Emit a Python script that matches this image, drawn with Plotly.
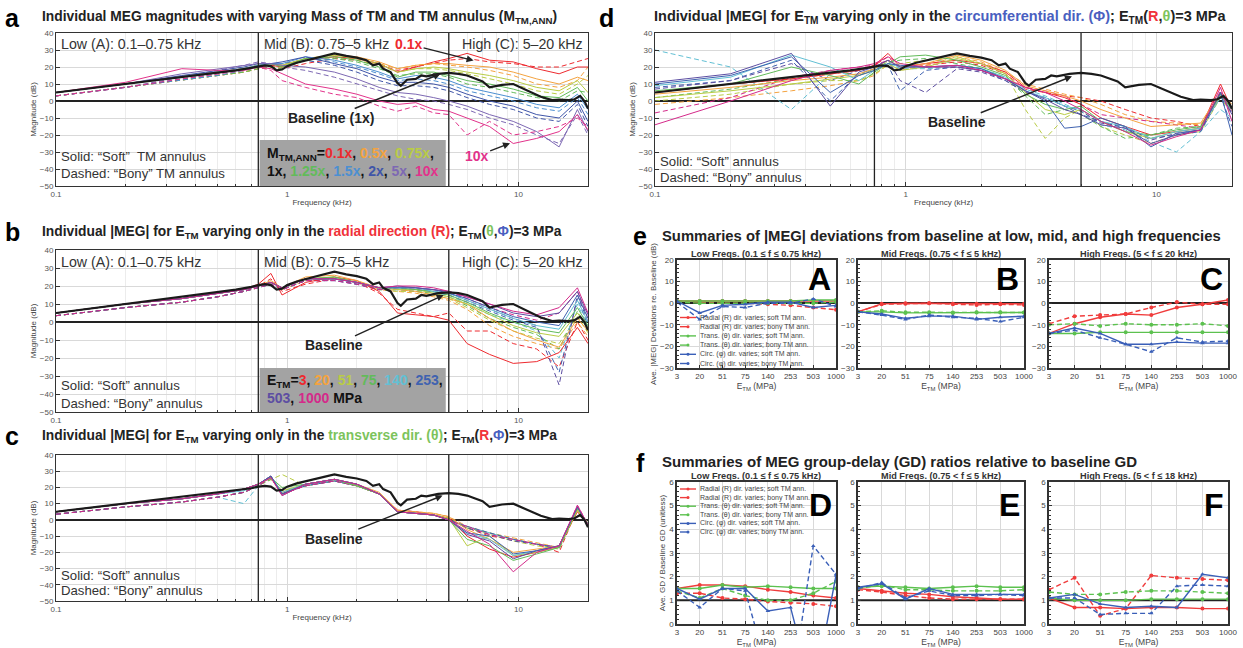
import numpy as np
import plotly.graph_objects as go

W, H = 1243, 648
FONT = "Liberation Sans, Arial, Helvetica, sans-serif"

# ---------------- data ----------------
FREQ = [0.1, 0.2, 0.35, 0.5, 0.65, 0.75, 0.85, 0.95, 1.2, 1.6, 2.0, 2.5, 3.0, 3.6, 4.3, 5.0, 6.0, 7.5, 9.5, 12, 15, 18, 20]
BASE_FREQ = [0.1, 0.2, 0.3, 0.5, 0.6, 0.7, 0.75, 0.8, 0.85, 0.9, 0.95, 1.0, 1.1, 1.3, 1.5, 1.6, 1.8, 2.0, 2.2, 2.35,
             2.5, 2.6, 2.8, 3.0, 3.1, 3.3, 3.6, 3.8, 4.0, 4.5, 5.0, 5.5, 6.0, 7.0, 7.5, 8.5, 9.5, 11, 12.5, 14, 15,
             16.5, 17.5, 18.5, 19.3, 20]
BASE_MAG = [5, 10, 13, 17, 18, 19.5, 20.5, 21, 20.5, 18, 18.5, 20.5, 22.5, 25, 27, 28, 26.5, 25.5, 24, 21,
            22, 19, 17, 10.5, 9, 12.5, 13, 15, 14.5, 16, 16.5, 16, 15, 11.5, 8, 9.5, 10, 6, 2.5, 0.5, 0.8,
            0.5, 1, 3, 0, -4.5]
BAND_EDGES = [0.75, 5.0]

# panel a: mass of TM and annulus
MASS_LABELS = ["0.1x", "0.5x", "0.75x", "1.25x", "1.5x", "2x", "5x", "10x"]
A_M01_SOFT = [5, 10, 14, 17, 19, 20, 21, 20, 24, 26, 25, 22, 17, 20, 23, 25, 28, 24, 23, 19, 16, 20, 20]
A_M01_BONY = [3, 8, 12, 15, 17, 19, 20, 19, 22, 25, 24, 21, 18, 20, 22, 24, 25, 23, 22, 20, 20, 23, 25]
A_M05_SOFT = [5, 10, 14, 17, 19, 21, 22, 21, 25, 27, 26, 23, 19, 21, 22, 22, 21, 20, 17, 13, 10, 14, 12]
A_M05_BONY = [3, 8, 12, 15, 17, 19, 20, 20, 24, 26, 25, 22, 19, 21, 22, 21, 20, 18, 15, 10, 8, 12, 20]
A_M075_SOFT = [5, 10, 14, 17, 19, 21, 22, 21, 25, 27, 25, 22, 17, 19, 20, 19, 17, 15, 12, 8, 6, 12, 5]
A_M075_BONY = [3, 8, 12, 15, 17, 19, 20, 20, 24, 26, 24, 21, 17, 19, 19, 18, 16, 13, 10, 6, 4, 10, 15]
A_M125_SOFT = [5, 10, 14, 17, 19, 21, 22, 20, 25, 26, 24, 20, 14, 17, 17, 15, 12, 10, 7, 3, 2, 8, 0]
A_M125_BONY = [3, 8, 12, 15, 17, 19, 20, 19, 24, 25, 23, 19, 15, 16, 16, 14, 10, 8, 5, 2, 0, 6, 5]
A_M15_SOFT = [5, 10, 14, 17, 19, 21, 22, 22, 26, 24, 21, 17, 13, 15, 14, 12, 8, 5, 2, -2, -4, 4, -5]
A_M15_BONY = [3, 8, 12, 15, 18, 20, 21, 21, 25, 23, 20, 16, 12, 13, 12, 10, 6, 3, 0, -4, -6, 2, -8]
A_M2_SOFT = [5, 10, 15, 18, 20, 22, 22, 23, 26, 22, 19, 14, 11, 11, 10, 8, 4, 0, -3, -8, -10, 0, -12]
A_M2_BONY = [3, 8, 13, 16, 19, 21, 21, 22, 24, 21, 17, 12, 9, 9, 8, 6, 2, -2, -5, -10, -12, -2, -15]
A_M5_SOFT = [5, 10, 16, 19, 21, 22, 22, 21, 20, 17, 13, 8, 5, 4, 2, 0, -3, -8, -12, -18, -27, -5, -18]
A_M5_BONY = [3, 8, 14, 18, 21, 23, 22, 20, 18, 14, 10, 6, 3, 1, 0, -2, -5, -10, -14, -20, -25, -8, -20]
A_M10_SOFT = [5, 11, 19, 18, 18, 20, 19, 16, 10, 7, 4, 0, -2, -1, -5, -6, -10, -15, -25, -22, -18, -8, -17]
A_M10_BONY = [3, 8, 13, 16, 18, 20, 18, 12, 8, 4, 2, -3, -6, -3, -7, -8, -20, -12, -20, -18, -15, -10, -15]

# panels b-d: E_TM values
E_LABELS = ["3", "20", "51", "75", "140", "253", "503", "1000"]
B_E3_SOFT = [5, 10, 13, 16, 18, 21, 27, 15, 22, 25, 23, 17, 5, 4, 3, 1, -12, -18, -23, -22, -17, -3, -12]
B_E3_BONY = [3.5, 8, 11, 14, 17, 20, 24, 17, 21, 24, 22, 16, 7, 5, 3, 5, -5, -5, -12, -15, -25, 0, -10]
B_E20_SOFT = [5, 10, 13, 16, 18, 20, 23, 19, 25, 26, 23, 19, 18, 17, 15, 13, 10, 2, -5, -10, -14, 2, -5]
B_E20_BONY = [3.5, 8, 11, 14, 17, 19, 22, 18, 23, 25, 22, 18, 17, 16, 14, 12, 7, -2, -8, -12, -15, 0, -8]
B_E51_SOFT = [5, 10, 13, 16, 18, 20, 22, 19, 24, 25, 22, 19, 18, 18, 16, 14, 10, 4, -2, -6, -8, 5, -3]
B_E51_BONY = [3.5, 8, 11, 14, 17, 19, 21, 18, 23, 24, 22, 18, 17, 17, 15, 13, 8, 1, -5, -9, -12, 3, -6]
B_E75_SOFT = [5, 10, 13, 16, 18, 20, 22, 19, 24, 25, 22, 19, 19, 18, 17, 15, 11, 5, 0, -4, -6, 8, -2]
B_E75_BONY = [3.5, 8, 11, 14, 17, 19, 21, 18, 23, 24, 22, 18, 18, 17, 16, 14, 9, 2, -3, -7, -15, 6, -5]
B_E140_SOFT = [5, 10, 13, 16, 18, 20, 22, 19, 24, 24, 22, 19, 19, 19, 17, 16, 12, 7, 2, -2, -4, 12, 0]
B_E140_BONY = [3.5, 8, 11, 14, 17, 19, 21, 18, 23, 24, 21, 18, 18, 18, 16, 15, 10, 4, 0, -5, -20, 10, -3]
B_E253_SOFT = [5, 10, 13, 16, 18, 20, 22, 19, 24, 24, 22, 19, 19, 19, 18, 16, 13, 8, 3, 0, -2, 15, 2]
B_E253_BONY = [3.5, 8, 11, 14, 17, 19, 21, 18, 23, 23, 21, 18, 18, 18, 17, 15, 11, 6, 1, -3, -28, 13, -2]
B_E503_SOFT = [5, 10, 13, 16, 18, 20, 22, 19, 24, 24, 22, 19, 20, 19, 18, 17, 14, 10, 5, 3, 5, 17, 4]
B_E503_BONY = [3.5, 8, 11, 14, 17, 19, 21, 18, 23, 23, 21, 18, 19, 18, 17, 16, 12, 7, 2, -2, -35, 15, 0]
B_E1000_SOFT = [5, 10, 13, 16, 18, 20, 22, 19, 24, 24, 22, 19, 20, 20, 19, 17, 14, 10, 6, 4, 8, 19, 5]
B_E1000_BONY = [3.5, 8, 11, 14, 17, 19, 21, 18, 23, 23, 21, 18, 19, 19, 18, 17, 13, 8, 4, 1, 5, 17, 2]

C_E3_SOFT = [5, 10, 13, 16, 19, 22, 27, 16, 22, 25, 22, 16, 5, 4, 3, 1, -10, -18, -23, -20, -16, 5, -3]
C_E3_BONY = [3.5, 8, 11, 14, 17, 21, 26, 16, 21, 24, 21, 16, 6, 5, 3, 1, -5, -10, -12, -15, -20, 7, -3]
C_E20_SOFT = [5, 10, 13, 16, 19, 22, 26, 17, 22, 25, 22, 17, 6, 5, 4, 2, -6, -12, -20, -18, -16, 6, -2]
C_E20_BONY = [3.5, 8, 11, 14, 17, 21, 25, 17, 21, 24, 21, 16, 6, 5, 4, 2, -4, -8, -11, -14, -17, 6, -3]
C_E51_SOFT = [5, 10, 13, 16, 19, 22, 26, 18, 22, 25, 21, 16, 5, 4, 3, 1, -16, -10, -22, -20, -17, 6, -3]
C_E51_BONY = [3.5, 8, 11, 14, 17, 21, 25, 28, 21, 24, 21, 16, 5, 4, 3, 1, -5, -9, -13, -16, -18, 6, -3]
C_E75_SOFT = [5, 10, 13, 16, 19, 22, 26, 20, 22, 25, 21, 16, 5, 4, 3, 0, -12, -16, -25, -21, -17, 7, -2]
C_E75_BONY = [3.5, 8, 11, 14, 17, 21, 25, 18, 21, 24, 21, 16, 5, 4, 3, 0, -5, -8, -12, -15, -18, 7, -3]
C_E140_SOFT = [5, 10, 13, 16, 18, 22, 27, 17, 22, 25, 22, 16, 5, 4, 3, 0, -8, -12, -22, -19, -16, 8, -3]
C_E140_BONY = [3.5, 8, 11, 14, 10, 21, 26, 17, 21, 24, 21, 16, 5, 4, 3, 0, -4, -8, -12, -15, -17, 8, -4]
C_E253_SOFT = [5, 10, 13, 16, 19, 22, 27, 16, 22, 25, 22, 16, 5, 4, 3, 0, -8, -10, -21, -19, -16, 8, -3]
C_E253_BONY = [3.5, 8, 11, 14, 17, 21, 27, 16, 21, 24, 21, 16, 5, 4, 3, 0, -4, -8, -12, -15, -17, 8, -4]
C_E503_SOFT = [5, 10, 13, 16, 19, 22, 27, 15, 22, 25, 22, 16, 5, 4, 3, 0, -9, -13, -24, -19, -16, 8, -3]
C_E503_BONY = [3.5, 8, 11, 14, 17, 21, 26, 16, 21, 24, 21, 16, 5, 4, 3, 0, -5, -9, -13, -15, -17, 8, -4]
C_E1000_SOFT = [5, 10, 13, 16, 19, 22, 26, 15, 22, 25, 22, 16, 5, 4, 3, 0, -7, -15, -32, -20, -16, 9, -3]
C_E1000_BONY = [3.5, 8, 11, 14, 17, 21, 26, 16, 21, 24, 21, 16, 6, 5, 3, 0, -4, -9, -12, -15, -17, 9, -3]

D_E3_SOFT = [5, 10, 13, 16, 18, 21, 28, 20, 22, 24, 22, 17, 8, 5, 2, -2, -10, -15, -20, -18, -16, 10, -5]
D_E3_BONY = [5, 10, 13, 16, 18, 21, 26, 19, 21, 23, 21, 16, 7, 5, 3, 2, 0, -5, -10, -12, -15, 5, -3]
D_E20_SOFT = [4, 8, 12, 14, 16, 19, 24, 20, 22, 27, 24, 18, 9, 6, 3, 0, -5, -10, -15, -14, -13, 5, -2]
D_E20_BONY = [-2, 2, 6, 9, 12, 15, 22, 18, 21, 26, 23, 17, 10, 7, 4, 2, -2, -8, -12, -13, -14, 4, -4]
D_E51_SOFT = [2, 6, 10, 13, 15, 18, 22, 18, 20, 25, 22, 16, 5, -5, -8, -5, -12, -18, -22, -18, -16, 3, -5]
D_E51_BONY = [0, 4, 10, 12, 12, 16, 21, 22, 24, 26, 22, 16, -5, -22, -10, -5, -15, -20, -25, -20, -18, 2, -8]
D_E75_SOFT = [6, 10, 20, 15, 10, 17, 22, 26, 27, 24, 20, 15, 4, -2, -5, -3, -12, -18, -20, -17, -15, 4, -5]
D_E75_BONY = [2, 7, 13, 18, 15, 19, 23, 24, 25, 22, 19, 14, 3, -8, -5, -8, -15, -22, -20, -16, -15, 3, -6]
D_E140_SOFT = [9, 14, 27, 20, 12, 18, 22, 20, 20, 21, 19, 14, 6, 2, -3, -5, -12, -15, -22, -18, -16, 2, -5]
D_E140_BONY = [30, 20, -5, 16, 18, 20, 22, 19, 19, 20, 18, 13, 7, 3, -2, -6, -14, -17, -24, -30, -18, -5, -10]
D_E253_SOFT = [10, 15, 26, 5, 15, 18, 22, 21, 20, 21, 19, 13, 6, 0, -16, -15, -10, -15, -27, -19, -17, 5, -20]
D_E253_BONY = [8, 12, 24, 0, 16, 19, 21, 6, 18, 20, 18, 12, 5, 2, -3, -8, -12, -16, -22, -20, -18, 3, -15]
D_E503_SOFT = [11, 16, 28, -3, 17, 20, 24, 20, 20, 20, 18, 13, 6, 1, -5, -8, -14, -16, -25, -20, -17, 5, -8]
D_E503_BONY = [7, 12, 22, 12, 18, 20, 24, 12, 5, 19, 17, 12, 5, 2, -3, -6, -13, -15, -23, -19, -17, 3, -7]
D_E1000_SOFT = [-14, 0, 12, 18, 20, 22, 26, 22, 20, 21, 18, 13, 8, 5, 0, -5, -12, -18, -26, -21, -17, 8, -12]
D_E1000_BONY = [-7, 2, 14, 18, 20, 21, 24, 20, 20, 20, 18, 13, 8, 6, 3, -2, -8, -10, -12, -14, -16, 6, -6]

# panel e: average |MEG| deviations (dB)
E_LOW_R_SOFT = [1, 1, 1, 1, 1, 1, 1, 1]
E_LOW_R_BONY = [1, 0.5, 0, 0, -0.5, -1, -2, -3]
E_LOW_T_SOFT = [1, 1, 1, 1, 1, 1, 1.5, 1.5]
E_LOW_T_BONY = [0.5, 0, 0, 0, 0, 0, 0, 0.5]
E_LOW_C_SOFT = [1, -4.5, -1, -0.5, 0.5, 0.5, -2, -1]
E_LOW_C_BONY = [0.5, -7.5, -1.5, -2, 0, 0, 2, -1.5]
E_MID_R_SOFT = [-4, -0.3, 0, 0, -0.2, -0.3, -0.3, -0.3]
E_MID_R_BONY = [-4, -0.5, -0.3, 0, -0.5, -0.8, -0.5, -0.8]
E_MID_T_SOFT = [-4, -4, -4.5, -4.5, -4.5, -4.3, -4.3, -4.3]
E_MID_T_BONY = [-4, -3.5, -4.2, -4.2, -4.3, -4.2, -4.2, -4.3]
E_MID_C_SOFT = [-4, -5, -7, -6, -6, -7.5, -6.5, -6]
E_MID_C_BONY = [-4, -5.5, -7.5, -5.5, -6.5, -7, -8.5, -6.5]
E_HIGH_R_SOFT = [-14, -9.5, -6.5, -5, -5.5, -2, -0.5, 1.5]
E_HIGH_R_BONY = [-9.5, -6, -5.5, -5, -2, 0.5, -0.5, -0.5]
E_HIGH_T_SOFT = [-14, -14, -13.5, -13.5, -13.5, -13.5, -13.5, -13.5]
E_HIGH_T_BONY = [-10, -9.5, -10.5, -9.5, -10, -10, -9.5, -10.5]
E_HIGH_C_SOFT = [-14, -11.5, -14, -19, -19, -18, -18.5, -18.5]
E_HIGH_C_BONY = [-14, -12.5, -16, -19, -22.5, -16, -18, -17.5]

# panel f: group-delay ratios
F_LOW_R_SOFT = [1.5, 1.65, 1.65, 1.6, 1.45, 1.35, 1.2, 1.1]
F_LOW_R_BONY = [1.3, 1.3, 1.1, 1.05, 0.95, 0.9, 0.85, 0.75]
F_LOW_T_SOFT = [1.5, 1.5, 1.65, 1.55, 1.6, 1.55, 1.5, 1.5]
F_LOW_T_BONY = [1.4, 1.1, 1.5, 1.2, 1.0, 1.0, 1.3, 1.8]
F_LOW_C_SOFT = [1.5, 1.05, 1.5, 1.5, 0.55, 0.7, -3, 2.05]
F_LOW_C_BONY = [1.4, 0.7, 1.5, 1.4, -2, -3, 3.3, 2.1]
F_MID_R_SOFT = [1.5, 1.4, 1.3, 1.25, 1.15, 1.1, 1.05, 1.05]
F_MID_R_BONY = [1.45, 1.35, 1.2, 1.1, 1.05, 1.05, 1.05, 1.05]
F_MID_T_SOFT = [1.55, 1.6, 1.55, 1.5, 1.55, 1.6, 1.55, 1.55]
F_MID_T_BONY = [1.5, 1.65, 1.45, 1.45, 1.4, 1.4, 1.4, 1.45]
F_MID_C_SOFT = [1.55, 1.7, 1.05, 1.5, 1.25, 1.25, 1.25, 1.25]
F_MID_C_BONY = [1.5, 1.75, 1.1, 1.4, 1.2, 1.2, 1.25, 1.2]
F_HIGH_R_SOFT = [1.1, 0.7, 0.7, 0.65, 0.7, 0.7, 0.65, 0.65]
F_HIGH_R_BONY = [1.45, 1.95, 0.35, 0.65, 2.05, 1.95, 1.9, 1.85]
F_HIGH_T_SOFT = [1.1, 1.0, 1.0, 1.0, 1.05, 1.05, 1.05, 1.05]
F_HIGH_T_BONY = [1.35, 1.25, 1.25, 1.35, 1.4, 1.4, 1.35, 1.3]
F_HIGH_C_SOFT = [1.1, 1.25, 0.85, 0.7, 0.75, 0.7, 2.1, 1.95]
F_HIGH_C_BONY = [1.1, 1.1, 0.4, 0.45, 0.45, 1.6, 1.65, 1.6]

LEG_LABELS = ["Radial (R) dir. varies; soft TM ann.", "Radial (R) dir. varies; bony TM ann.",
              "Trans. (θ) dir. varies; soft TM ann.", "Trans. (θ) dir. varies; bony TM ann.",
              "Circ. (φ) dir. varies; soft TM ann.", "Circ. (φ) dir. varies; bony TM ann."]

# ---------------- styles ----------------
RED, ORANGE, YG, GREEN = "#ee2a2f", "#f4a340", "#b9cc45", "#62bb5a"
CYAN, LBLUE, BLUE, PURPLE, MAGENTA = "#62c0d4", "#4c8fd1", "#3f55a8", "#7d68b3", "#e2338b"
MASS_COLORS = [RED, ORANGE, YG, GREEN, LBLUE, BLUE, PURPLE, MAGENTA]
E_COLORS = [RED, ORANGE, YG, GREEN, CYAN, "#3f62b0", "#5d4ea2", "#d42a8a"]
SUM_RED, SUM_GREEN, SUM_BLUE = "#f03c3c", "#5cc14f", "#3a5fb8"
GRID, GRID_MINOR, FRAME = "#d9d9d9", "#ececec", "#333333"
DASH = "5px,3px"


def px(v):
    return v / W


def py(v):
    return 1 - v / H


fig = go.Figure()

BIG = {  # axis suffix: (x0, x1, y0top, y1bottom) in pixels
    "": (56, 588, 33, 186),
    "2": (56, 588, 250, 412),
    "3": (56, 588, 455, 601),
    "4": (655, 1232, 33, 186),
}
SMALL_X = [(677, 836), (858, 1024), (1049, 1228)]
E_Y = (260, 368)
F_Y = (482, 624)

MINOR = [0.2, 0.3, 0.4, 0.5, 0.6, 0.7, 0.8, 0.9, 2, 3, 4, 5, 6, 7, 8, 9, 20]
layout_axes = {}
for suf, (x0, x1, yt, yb) in BIG.items():
    xa = dict(
        type="log", range=[-1, np.log10(20)], domain=[px(x0), px(x1)], anchor="y" + suf, automargin=False,
        tickvals=[0.1, 1, 10], ticktext=["0.1", "1", "10"], showgrid=True, gridcolor=GRID,
        minor=dict(tickvals=MINOR, showgrid=True, gridcolor=GRID_MINOR, ticks="inside", ticklen=2,
                   tickcolor=FRAME),
        ticks="inside", ticklen=4, tickcolor=FRAME, showline=True, mirror=True, linecolor=FRAME,
        linewidth=1, tickfont=dict(size=8, color="#555"), zeroline=False)
    if suf != "2":
        xa["title"] = dict(text="Frequency (kHz)", font=dict(size=8, color="#444"), standoff=1)
    layout_axes["xaxis" + suf] = xa
    layout_axes["yaxis" + suf] = dict(
        range=[-50, 40], dtick=10, domain=[py(yb), py(yt)], anchor="x" + suf, showgrid=True, automargin=False,
        gridcolor=GRID, zeroline=True, zerolinecolor="#222", zerolinewidth=2, ticks="inside", ticklen=4,
        tickcolor=FRAME, showline=True, mirror=True, linecolor=FRAME, linewidth=1,
        tickfont=dict(size=8, color="#555"),
        title=dict(text="Magnitude (dB)", font=dict(size=8, color="#444"), standoff=2))

for i in range(6):
    n = str(5 + i)
    xs = SMALL_X[i % 3]
    ys = E_Y if i < 3 else F_Y
    layout_axes["xaxis" + n] = dict(
        type="category", range=[0, 7], domain=[px(xs[0]), px(xs[1])], anchor="y" + n, automargin=False,
        showgrid=True, gridcolor=GRID, ticks="inside", ticklen=3, tickcolor=FRAME, showline=True,
        mirror=True, linecolor=FRAME, linewidth=1.5, tickfont=dict(size=8, color="#444"),
        title=dict(text="E<sub>TM</sub> (MPa)", font=dict(size=8.5, color="#444"), standoff=1))
    if i < 3:
        ya = dict(
            range=[-30, 20], dtick=10, domain=[py(ys[1]), py(ys[0])], anchor="x" + n, showgrid=True,
            automargin=False,
            gridcolor=GRID, zeroline=True, zerolinecolor="#222", zerolinewidth=2, ticks="inside",
            ticklen=3, tickcolor=FRAME, showline=True, mirror=True, linecolor=FRAME, linewidth=1.5,
            minor=dict(dtick=2, ticks="inside", ticklen=2, tickcolor=FRAME),
            tickfont=dict(size=8, color="#444"))
        if i == 0:
            ya["title"] = dict(text="Ave. |MEG| Deviations re. Baseline (dB)", font=dict(size=8, color="#444"),
                               standoff=2)
    else:
        ya = dict(
            range=[0, 6], dtick=1, domain=[py(ys[1]), py(ys[0])], anchor="x" + n, showgrid=True,
            automargin=False,
            gridcolor=GRID, zeroline=False, ticks="inside", ticklen=3, tickcolor=FRAME, showline=True,
            mirror=True, linecolor=FRAME, linewidth=1.5,
            minor=dict(dtick=0.2, ticks="inside", ticklen=2, tickcolor=FRAME),
            tickfont=dict(size=8, color="#444"))
        if i == 3:
            ya["title"] = dict(text="Ave. GD / Baseline GD (unitless)", font=dict(size=8, color="#444"),
                               standoff=2)
    layout_axes["yaxis" + n] = ya


def line(suf, x, y, color, dash="solid", width=1.0):
    fig.add_trace(go.Scatter(x=x, y=y, mode="lines", xaxis="x" + suf, yaxis="y" + suf,
                             line=dict(color=color, dash=dash, width=width), showlegend=False,
                             hoverinfo="skip"))


PANEL_SERIES = {
    "": [(A_M01_SOFT, A_M01_BONY), (A_M05_SOFT, A_M05_BONY), (A_M075_SOFT, A_M075_BONY),
         (A_M125_SOFT, A_M125_BONY), (A_M15_SOFT, A_M15_BONY), (A_M2_SOFT, A_M2_BONY),
         (A_M5_SOFT, A_M5_BONY), (A_M10_SOFT, A_M10_BONY)],
    "2": [(B_E3_SOFT, B_E3_BONY), (B_E20_SOFT, B_E20_BONY), (B_E51_SOFT, B_E51_BONY),
          (B_E75_SOFT, B_E75_BONY), (B_E140_SOFT, B_E140_BONY), (B_E253_SOFT, B_E253_BONY),
          (B_E503_SOFT, B_E503_BONY), (B_E1000_SOFT, B_E1000_BONY)],
    "3": [(C_E3_SOFT, C_E3_BONY), (C_E20_SOFT, C_E20_BONY), (C_E51_SOFT, C_E51_BONY),
          (C_E75_SOFT, C_E75_BONY), (C_E140_SOFT, C_E140_BONY), (C_E253_SOFT, C_E253_BONY),
          (C_E503_SOFT, C_E503_BONY), (C_E1000_SOFT, C_E1000_BONY)],
    "4": [(D_E3_SOFT, D_E3_BONY), (D_E20_SOFT, D_E20_BONY), (D_E51_SOFT, D_E51_BONY),
          (D_E75_SOFT, D_E75_BONY), (D_E140_SOFT, D_E140_BONY), (D_E253_SOFT, D_E253_BONY),
          (D_E503_SOFT, D_E503_BONY), (D_E1000_SOFT, D_E1000_BONY)],
}

for suf, series in PANEL_SERIES.items():
    colors = MASS_COLORS if suf == "" else E_COLORS
    for (soft, bony), col in zip(series, colors):
        line(suf, FREQ, bony, col, DASH, 1.0)
    for (soft, bony), col in zip(series, colors):
        line(suf, FREQ, soft, col, "solid", 1.0)
    for edge in BAND_EDGES:
        line(suf, [edge, edge], [-50, 40], "#222", "solid", 1.3)
    line(suf, BASE_FREQ, BASE_MAG, "#1a1a1a", "solid", 2.2)

# summary panels
SUM_SETS = [
    [E_LOW_R_SOFT, E_LOW_R_BONY, E_LOW_T_SOFT, E_LOW_T_BONY, E_LOW_C_SOFT, E_LOW_C_BONY],
    [E_MID_R_SOFT, E_MID_R_BONY, E_MID_T_SOFT, E_MID_T_BONY, E_MID_C_SOFT, E_MID_C_BONY],
    [E_HIGH_R_SOFT, E_HIGH_R_BONY, E_HIGH_T_SOFT, E_HIGH_T_BONY, E_HIGH_C_SOFT, E_HIGH_C_BONY],
    [F_LOW_R_SOFT, F_LOW_R_BONY, F_LOW_T_SOFT, F_LOW_T_BONY, F_LOW_C_SOFT, F_LOW_C_BONY],
    [F_MID_R_SOFT, F_MID_R_BONY, F_MID_T_SOFT, F_MID_T_BONY, F_MID_C_SOFT, F_MID_C_BONY],
    [F_HIGH_R_SOFT, F_HIGH_R_BONY, F_HIGH_T_SOFT, F_HIGH_T_BONY, F_HIGH_C_SOFT, F_HIGH_C_BONY],
]
SUM_STYLE = [(SUM_RED, "solid", "circle"), (SUM_RED, DASH, "circle"),
             (SUM_GREEN, "solid", "circle"), (SUM_GREEN, DASH, "circle"),
             (SUM_BLUE, "solid", "triangle-up"), (SUM_BLUE, DASH, "triangle-up")]

for i, sets in enumerate(SUM_SETS):
    n = str(5 + i)
    if i >= 3:
        fig.add_trace(go.Scatter(x=E_LABELS, y=[1] * len(E_LABELS), mode="lines", xaxis="x" + n,
                                 yaxis="y" + n, line=dict(color="#222", width=2), showlegend=False,
                                 hoverinfo="skip"))
    for vals, (col, dash, sym) in zip(sets, SUM_STYLE):
        fig.add_trace(go.Scatter(x=E_LABELS, y=vals, mode="lines+markers", xaxis="x" + n,
                                 yaxis="y" + n, line=dict(color=col, dash=dash, width=1.4),
                                 marker=dict(color=col, size=4, symbol=sym), showlegend=False,
                                 hoverinfo="skip", cliponaxis=True))

# ---------------- annotations ----------------
ann = []
shapes = []


def txt(xp, yp, text, size=12, color="#222", xanchor="left", yanchor="middle", bold=False, align="left"):
    if bold:
        text = "<b>" + text + "</b>"
    ann.append(dict(x=px(xp), y=py(yp), xref="paper", yref="paper", text=text, showarrow=False,
                    xanchor=xanchor, yanchor=yanchor, align=align,
                    font=dict(size=size, color=color, family=FONT)))


def dtxt(suf, f, db, text, size=12.5, color="#333", xanchor="left", bold=False, align="left"):
    if bold:
        text = "<b>" + text + "</b>"
    ann.append(dict(x=np.log10(f), y=db, xref="x" + suf, yref="y" + suf, text=text, showarrow=False,
                    xanchor=xanchor, yanchor="middle", align=align,
                    font=dict(size=size, color=color, family=FONT)))


def arrow(suf, f_head, db_head, f_tail, db_tail, text, color="#222", size=13):
    ann.append(dict(x=np.log10(f_head), y=db_head, ax=np.log10(f_tail), ay=db_tail,
                    xref="x" + suf, yref="y" + suf, axref="x" + suf, ayref="y" + suf,
                    text="<b>" + text + "</b>", showarrow=True, arrowhead=2, arrowsize=1,
                    arrowwidth=1.4, arrowcolor="#222", font=dict(size=size, color=color, family=FONT)))


def span(c, t):
    return "<span style='color:%s'>%s</span>" % (c, t)


T_RED, T_GREEN, T_BLUE = "#f0323a", "#7cc35c", "#4a5fc0"

# panel letters
for xp, yp, L in [(12, 18, "a"), (12, 232, "b"), (12, 436, "c"), (606, 18, "d"), (640, 236, "e"), (640, 463, "f")]:
    txt(xp, yp, L, size=25, color="#000", xanchor="center", bold=True)

# titles
TS = 13.8
txt(40, 17, "Individual MEG magnitudes with varying Mass of TM and TM annulus (M<sub>TM,ANN</sub>)", TS, bold=True)
txt(40, 232, "Individual |MEG| for E<sub>TM</sub> varying only in the " + span(T_RED, "radial direction (R)")
    + "; E<sub>TM</sub>(" + span(T_GREEN, "θ") + "," + span(T_BLUE, "Φ") + ")=3 MPa", TS, bold=True)
txt(40, 436, "Individual |MEG| for E<sub>TM</sub> varying only in the " + span(T_GREEN, "transverse dir. (θ)")
    + "; E<sub>TM</sub>(" + span(T_RED, "R") + "," + span(T_BLUE, "Φ") + ")=3 MPa", TS, bold=True)
txt(652, 17, "Individual |MEG| for E<sub>TM</sub> varying only in the " + span(T_BLUE, "circumferential dir. (Φ)")
    + "; E<sub>TM</sub>(" + span(T_RED, "R") + "," + span(T_GREEN, "θ") + ")=3 MPa", TS + 0.7, bold=True)
txt(660, 236, "Summaries of |MEG| deviations from baseline at low, mid, and high frequencies", 14.8, bold=True)
txt(660, 461, "Summaries of MEG group-delay (GD) ratios relative to baseline GD", 15, bold=True)

# region labels
RS = 14.2
for suf in ["", "2"]:
    dtxt(suf, 0.103, 33.5, "Low (A): 0.1–0.75 kHz", RS)
    dtxt(suf, 0.78, 33.5, "Mid (B): 0.75–5 kHz", RS)
    dtxt(suf, 19.5, 33.5, "High (C): 5–20 kHz", RS, xanchor="right")

SS = 13.2
dtxt("", 0.103, -32.5, "Solid: “Soft”  TM annulus", SS)
dtxt("", 0.103, -42.5, "Dashed: “Bony” TM annulus", SS)
for suf, y1, y2 in [("2", -35.5, -45), ("3", -34.5, -43.5), ("4", -35.5, -45)]:
    dtxt(suf, 0.103, y1, "Solid: “Soft” annulus", SS)
    dtxt(suf, 0.103, y2, "Dashed: “Bony” annulus", SS)

# legend boxes (domain fractions computed from log positions)
LOGSPAN = np.log10(20) - (-1)


def xdom(f):
    return (np.log10(f) + 1) / LOGSPAN


shapes.append(dict(type="rect", xref="x domain", yref="y", x0=xdom(0.76), x1=xdom(4.85), y0=-50, y1=-23,
                   fillcolor="#a3a3a3", line=dict(width=0), layer="above"))
shapes.append(dict(type="rect", xref="x2 domain", yref="y2", x0=xdom(0.76), x1=xdom(4.85), y0=-50, y1=-25.5,
                   fillcolor="#a3a3a3", line=dict(width=0), layer="above"))

dtxt("", 0.8, -36, "M<sub>TM,ANN</sub>=" + span(RED, "0.1x") + ", " + span(ORANGE, "0.5x") + ", "
     + span(YG, "0.75x") + ",<br>1x, " + span(GREEN, "1.25x") + ", " + span(LBLUE, "1.5x") + ", "
     + span(BLUE, "2x") + ", " + span(PURPLE, "5x") + ", " + span(MAGENTA, "10x"), size=14,
     color="#111", bold=True)
dtxt("2", 0.8, -37, "E<sub>TM</sub>=" + span(RED, "3") + ", " + span(ORANGE, "20") + ", " + span(YG, "51")
     + ", " + span(GREEN, "75") + ", " + span(CYAN, "140") + ", " + span("#3f62b0", "253") + ",<br>"
     + span("#5d4ea2", "503") + ", " + span("#d42a8a", "1000") + " MPa", size=14, color="#111", bold=True)

# arrows
arrow("", 4.6, 16, 1.55, -10, "Baseline (1x)", size=14)
arrow("", 6.4, 23.8, 3.35, 33.5, span(RED, "0.1x"), size=14)
arrow("", 9.2, -24.8, 6.6, -32.5, span(MAGENTA, "10x"), size=14)
arrow("2", 4.75, 15, 1.6, -13, "Baseline", size=14)
arrow("3", 4.7, 15, 1.6, -11.5, "Baseline", size=14)
arrow("4", 4.6, 14.5, 1.6, -12.5, "Baseline", size=14)

# summary subplot titles and letters
SUB_TITLES_E = ["Low Freqs. (0.1 ≤ f ≤ 0.75 kHz)", "Mid Freqs. (0.75 < f ≤ 5 kHz)", "High Freqs. (5 < f ≤ 20 kHz)"]
SUB_TITLES_F = ["Low Freqs. (0.1 ≤ f ≤ 0.75 kHz)", "Mid Freqs. (0.75 < f ≤ 5 kHz)", "High Freqs. (5 < f ≤ 18 kHz)"]
for k, (x0, x1) in enumerate(SMALL_X):
    txt((x0 + x1) / 2, E_Y[0] - 6, SUB_TITLES_E[k], 9.2, "#333", xanchor="center", bold=True)
    txt((x0 + x1) / 2, F_Y[0] - 6, SUB_TITLES_F[k], 9.2, "#333", xanchor="center", bold=True)
    txt(x1 - 3, E_Y[0] + 19, "ABC"[k], 32, "#000", xanchor="right", bold=True)
    txt(x1 - 2, F_Y[0] + 23, "DEF"[k], 32, "#000", xanchor="right", bold=True)

# custom legends inside A and D
for (lx, ly0, dy) in [(680, 317.5, 9.2), (680, 489, 8.6)]:
    for j, (lab, (col, dash, sym)) in enumerate(zip(LEG_LABELS, SUM_STYLE)):
        yy = ly0 + j * dy
        shapes.append(dict(type="line", xref="paper", yref="paper", x0=px(lx), x1=px(lx + 16),
                           y0=py(yy), y1=py(yy), line=dict(color=col, width=1.4,
                                                            dash="dash" if dash != "solid" else "solid")))
        shapes.append(dict(type="circle", xref="paper", yref="paper", x0=px(lx + 6.5), x1=px(lx + 9.5),
                           y0=py(yy + 1.5), y1=py(yy - 1.5), fillcolor=col, line=dict(width=0)))
        txt(lx + 18, yy, lab, 7, "#444")

fig.update_layout(
    width=W, height=H, margin=dict(l=0, r=0, t=0, b=0, autoexpand=False), paper_bgcolor="white",
    plot_bgcolor="white",
    font=dict(family=FONT, color="#333"), showlegend=False, annotations=ann, shapes=shapes,
    **layout_axes)

fig.write_html("out.html")
